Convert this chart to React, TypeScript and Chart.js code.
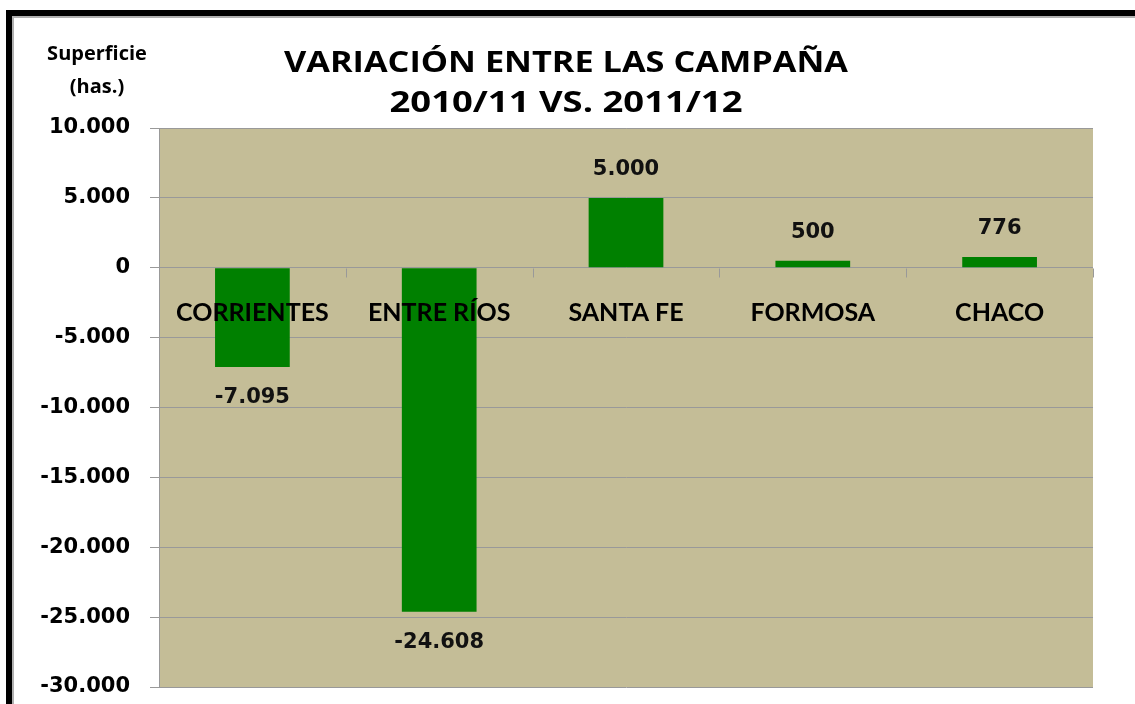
import React, { useEffect, useRef } from "react";
import { Chart, registerables } from "chart.js";

Chart.register(...registerables);

const categories = ["CORRIENTES", "ENTRE RÍOS", "SANTA FE", "FORMOSA", "CHACO"];
const values = [-7095, -24608, 5000, 500, 776];
const titleLines = ["VARIACIÓN ENTRE LAS CAMPAÑA", "2010/11 VS. 2011/12"];
const axisTitleLines = ["Superficie", "(has.)"];
const yMin = -30000;
const yMax = 10000;
const yStep = 5000;

const W = 1135;
const H = 704;
const PLOT_BG = "#C4BD97";
const BAR = "#008000";
const GRID = "#999999";

function fmt(v: number): string {
  const s = Math.abs(Math.round(v))
    .toString()
    .replace(/\B(?=(\d{3})+(?!\d))/g, ".");
  return (v < 0 ? "-" : "") + s;
}

function stretchedText(ctx: any, text: string, cx: number, cy: number, targetWidth: number) {
  const w = ctx.measureText(text).width;
  const sx = targetWidth / w;
  ctx.save();
  ctx.translate(cx, cy);
  ctx.scale(sx, 1);
  ctx.fillText(text, 0, 0);
  ctx.restore();
}

const decorPlugin = {
  id: "decor",
  beforeDraw(chart: any) {
    const { ctx, chartArea } = chart;
    ctx.save();
    ctx.fillStyle = "#ffffff";
    ctx.fillRect(0, 0, W, H);
    ctx.fillStyle = PLOT_BG;
    ctx.fillRect(chartArea.left, chartArea.top, chartArea.right - chartArea.left, chartArea.bottom - chartArea.top);
    ctx.restore();
  },
  afterDraw(chart: any) {
    const { ctx, chartArea } = chart;
    const y = chart.scales.y;
    const x = chart.scales.x;
    ctx.save();
    // frame
    ctx.fillStyle = "#000000";
    ctx.fillRect(6, 10, W, 6);
    ctx.fillRect(6, 10, 6, H);
    ctx.fillStyle = "#B0B0B0";
    ctx.fillRect(12, 16, W, 2);
    ctx.fillRect(12, 16, 2, H);

    // x tick marks at zero line
    const y0 = Math.round(y.getPixelForValue(0)) + 0.5;
    const n = categories.length;
    const cw = (chartArea.right - chartArea.left) / n;
    ctx.strokeStyle = GRID;
    ctx.lineWidth = 1;
    for (let i = 0; i <= n; i++) {
      const px = Math.round(chartArea.left + cw * i) + 0.5;
      ctx.beginPath();
      ctx.moveTo(px, y0);
      ctx.lineTo(px, y0 + 9);
      ctx.stroke();
    }

    // category labels
    ctx.fillStyle = "#000000";
    ctx.font = "bold 25px Lato";
    ctx.textAlign = "center";
    ctx.textBaseline = "middle";
    categories.forEach((c, i) => {
      const cx = x.getPixelForValue(i);
      ctx.fillText(c, cx, y0 + 44);
    });

    // data labels
    ctx.font = "bold 21px 'DejaVu Sans'";
    ctx.fillStyle = "#111111";
    values.forEach((v, i) => {
      const cx = x.getPixelForValue(i);
      const py = y.getPixelForValue(v);
      ctx.fillText(fmt(v), cx, v >= 0 ? py - 28 : py + 31);
    });

    // title
    ctx.fillStyle = "#000000";
    ctx.font = "bold 29px 'Open Sans'";
    stretchedText(ctx, titleLines[0], 566, 64, 564);
    stretchedText(ctx, titleLines[1], 566, 104, 353);

    // axis title
    ctx.font = "bold 20px 'Open Sans'";
    ctx.fillText(axisTitleLines[0], 97, 54);
    ctx.fillText(axisTitleLines[1], 97, 87);
    ctx.restore();
  },
};

export default function App() {
  const ref = useRef<HTMLCanvasElement | null>(null);
  useEffect(() => {
    if (!ref.current) return;
    const chart = new Chart(ref.current, {
      type: "bar",
      data: {
        labels: categories,
        datasets: [
          {
            data: values,
            backgroundColor: BAR,
            borderWidth: 0,
            barPercentage: 0.4,
            categoryPercentage: 1.0,
          },
        ],
      },
      options: {
        responsive: false,
        animation: false,
        devicePixelRatio: 1,
        layout: { padding: { top: 128, right: 42, bottom: 17, left: 0 } },
        plugins: {
          legend: { display: false },
          tooltip: { enabled: false },
          title: { display: false },
        },
        scales: {
          x: {
            display: false,
          },
          y: {
            min: yMin,
            max: yMax,
            afterFit: (s: any) => {
              s.width = 159;
              s.paddingTop = 0;
              s.paddingBottom = 0;
            },
            ticks: {
              stepSize: yStep,
              padding: 20,
              color: "#000000",
              font: { family: "'DejaVu Sans'", size: 21, weight: "bold" },
              callback: (v: any) => fmt(Number(v)),
            },
            grid: {
              color: GRID,
              tickLength: 9,
              drawTicks: true,
            },
            border: { display: true, color: GRID },
          },
        },
      },
      plugins: [decorPlugin],
    });
    return () => chart.destroy();
  }, []);
  return (
    <div style={{ position: "fixed", left: 0, top: 0, width: W, height: H }}>
      <canvas ref={ref} width={W} height={H} style={{ width: W, height: H, display: "block" }} />
    </div>
  );
}
